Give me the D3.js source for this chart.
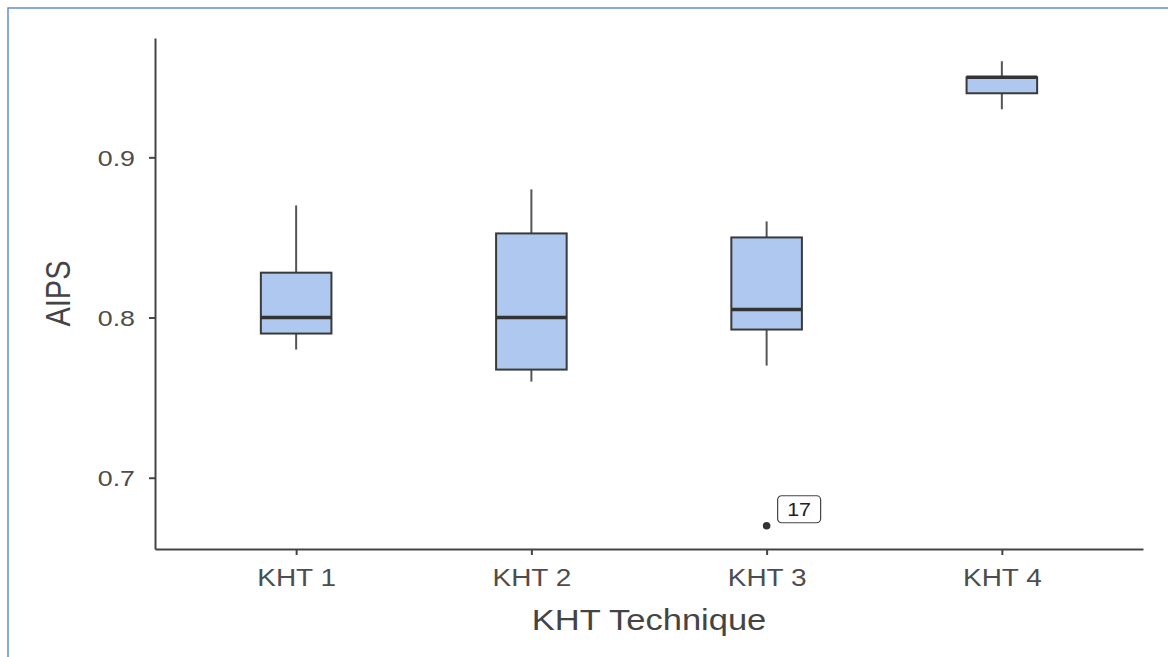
<!DOCTYPE html>
<html>
<head>
<meta charset="utf-8">
<script src="https://cdn.jsdelivr.net/npm/d3@7"></script>
<style>
  html, body { margin: 0; padding: 0; background: #fff; }
  svg { display: block; }
  text { font-family: "Liberation Sans", Arial, sans-serif; }
</style>
</head>
<body>
<svg id="chart" width="1168" height="657"></svg>
<script>
// ---- data ----
const categories = ["KHT 1", "KHT 2", "KHT 3", "KHT 4"];
const whiskerLow  = [0.78, 0.76, 0.77, 0.93];
const q1          = [0.79, 0.7675, 0.7925, 0.94];
const median      = [0.80, 0.80, 0.805, 0.95];
const q3          = [0.828, 0.8525, 0.85, 0.95];
const whiskerHigh = [0.87, 0.88, 0.86, 0.96];
const outlierCategory = ["KHT 3"];
const outlierValue = [0.67];
const outlierLabel = ["17"];
const yTicks = [0.7, 0.8, 0.9];
const yDomain = [0.6555, 0.9745];
const xTitle = "KHT Technique";
const yTitle = "AIPS";

// ---- layout ----
const W = 1168, H = 657;
const mLeft = 155, mRight = 1143, mTop = 38, mBottom = 549;
const STRETCH = 1.19;
const svg = d3.select("#chart");

// frame border
svg.append("rect").attr("x", 8).attr("y", 8).attr("width", W + 20).attr("height", H + 20)
  .attr("fill", "none").attr("stroke", "#5d8fd3").attr("stroke-width", 1.5);

const x = d3.scalePoint().domain(categories).range([mLeft, mRight]).padding(0.6);
const y = d3.scaleLinear().domain(yDomain).range([mBottom, mTop]);
const bw = x.step() * 0.3;

const boxes = categories.map((c, i) => ({
  c, lo: whiskerLow[i], q1: q1[i], med: median[i], q3: q3[i], hi: whiskerHigh[i]
}));

const g = svg.append("g");

// whiskers
g.selectAll("line.wup").data(boxes).join("line").attr("class", "wup")
  .attr("x1", d => x(d.c)).attr("x2", d => x(d.c))
  .attr("y1", d => y(d.q3)).attr("y2", d => y(d.hi))
  .attr("stroke", "#555").attr("stroke-width", 2);
g.selectAll("line.wdn").data(boxes).join("line").attr("class", "wdn")
  .attr("x1", d => x(d.c)).attr("x2", d => x(d.c))
  .attr("y1", d => y(d.q1)).attr("y2", d => y(d.lo))
  .attr("stroke", "#555").attr("stroke-width", 2);

// boxes
g.selectAll("rect.box").data(boxes).join("rect").attr("class", "box")
  .attr("x", d => x(d.c) - bw / 2).attr("width", bw)
  .attr("y", d => y(d.q3)).attr("height", d => y(d.q1) - y(d.q3))
  .attr("fill", "#aec8ef").attr("stroke", "#3a3a3a").attr("stroke-width", 2);

// medians
g.selectAll("line.med").data(boxes).join("line").attr("class", "med")
  .attr("x1", d => x(d.c) - bw / 2).attr("x2", d => x(d.c) + bw / 2)
  .attr("y1", d => y(d.med)).attr("y2", d => y(d.med))
  .attr("stroke", "#333").attr("stroke-width", 3.5);

// outliers
const outs = outlierCategory.map((c, i) => ({ c, v: outlierValue[i], label: outlierLabel[i] }));
g.selectAll("circle.out").data(outs).join("circle").attr("class", "out")
  .attr("cx", d => x(d.c)).attr("cy", d => y(d.v)).attr("r", 3.8).attr("fill", "#333");
const lab = g.selectAll("g.lab").data(outs).join("g").attr("class", "lab")
  .attr("transform", d => `translate(${x(d.c) + 11},${y(d.v) - 30})`);
lab.append("rect").attr("x", 0).attr("y", 0).attr("width", 43).attr("height", 27)
  .attr("rx", 4).attr("fill", "#fff").attr("stroke", "#444").attr("stroke-width", 1.2);
lab.append("text").text(d => d.label)
  .attr("transform", `translate(21.5,20) scale(${STRETCH},1)`)
  .attr("text-anchor", "middle").attr("font-size", 18).attr("fill", "#222");

// axes
const yAxis = svg.append("g").attr("transform", `translate(${mLeft},0)`)
  .call(d3.axisLeft(y).tickValues(yTicks).tickFormat(d3.format(".1f")).tickSizeInner(6).tickSizeOuter(0));
const xAxis = svg.append("g").attr("transform", `translate(0,${mBottom})`)
  .call(d3.axisBottom(x).tickSizeInner(6).tickSizeOuter(0));

[yAxis, xAxis].forEach(a => {
  a.select(".domain").attr("stroke", "#444").attr("stroke-width", 2);
  a.selectAll(".tick line").attr("stroke", "#444").attr("stroke-width", 2);
});
yAxis.selectAll(".tick text")
  .attr("x", null).attr("dy", null)
  .attr("transform", `translate(-20,8) scale(${STRETCH},1)`)
  .attr("text-anchor", "end").attr("font-size", 22.5).attr("fill", "#4d4d4d");
xAxis.selectAll(".tick text")
  .attr("y", null).attr("dy", null)
  .attr("transform", `translate(0,37) scale(${STRETCH},1)`)
  .attr("text-anchor", "middle").attr("font-size", 23.5).attr("fill", "#4d4d4d");
svg.selectAll(".tick text").attr("font-family", "Liberation Sans, Arial, sans-serif");

// titles
svg.append("text").text(xTitle)
  .attr("transform", `translate(${(mLeft + mRight) / 2},630) scale(${STRETCH},1)`)
  .attr("text-anchor", "middle").attr("font-size", 29).attr("fill", "#444");
svg.append("text").text(yTitle)
  .attr("transform", `translate(70,${(mTop + mBottom) / 2}) scale(${STRETCH},1) rotate(-90)`)
  .attr("text-anchor", "middle").attr("font-size", 29).attr("fill", "#444");
</script>
</body>
</html>
